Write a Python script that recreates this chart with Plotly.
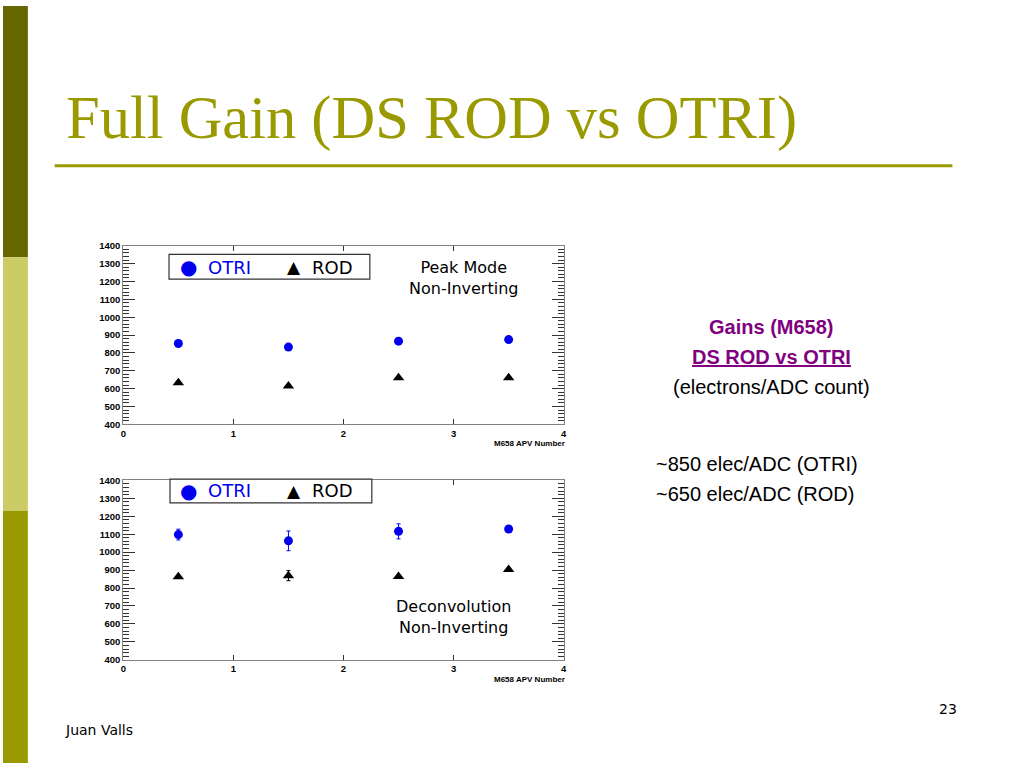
import plotly.graph_objects as go

W, H = 1024, 768

# ---------------- data ----------------
apv = [0.5, 1.5, 2.5, 3.5]
peak_otri = [853, 833, 866, 875]
peak_otri_err = [5, 5, 5, 5]
peak_rod = [633, 615, 661, 661]
peak_rod_err = [4, 4, 4, 4]
deco_otri = [1098, 1063, 1116, 1129]
deco_otri_err = [30, 55, 42, 8]
deco_rod = [863, 869, 865, 904]
deco_rod_err = [6, 28, 6, 6]
y_ticks = [400, 500, 600, 700, 800, 900, 1000, 1100, 1200, 1300, 1400]
x_ticks = [0, 1, 2, 3, 4]

BLUE = "#0000ee"
OLIVE = "#999900"
PURPLE = "#800080"


def px(x):
    return x / W


def py(y):
    return 1 - y / H


fig = go.Figure()

# plot frames in pixels: (left, right, top, bottom)
frames = [(121, 564, 243.3, 424.5), (121, 564, 481.3, 663.3)]

datasets = [
    (peak_otri, peak_otri_err, peak_rod, peak_rod_err),
    (deco_otri, deco_otri_err, deco_rod, deco_rod_err),
]

for i, (fr, ds) in enumerate(zip(frames, datasets)):
    xa = "x" if i == 0 else "x2"
    ya = "y" if i == 0 else "y2"
    otri, otri_e, rod, rod_e = ds
    fig.add_trace(go.Scatter(
        x=apv, y=otri, mode="markers", xaxis=xa, yaxis=ya, name="OTRI",
        marker=dict(symbol="circle", size=9, color=BLUE),
        error_y=dict(type="data", array=otri_e, color=BLUE, thickness=1, width=2),
        showlegend=False,
    ))
    fig.add_trace(go.Scatter(
        x=apv, y=rod, mode="markers", xaxis=xa, yaxis=ya, name="ROD",
        marker=dict(symbol="triangle-up", size=10, color="black"),
        error_y=dict(type="data", array=rod_e, color="black", thickness=1, width=2),
        showlegend=False,
    ))

axis_common = dict(
    showline=True, linecolor="#808080", linewidth=1, mirror="ticks",
    showgrid=False, zeroline=False, ticks="inside", tickcolor="#333333",
)

for i, fr in enumerate(frames):
    l, r, t, b = fr
    xkey = "xaxis" if i == 0 else "xaxis2"
    ykey = "yaxis" if i == 0 else "yaxis2"
    fig.layout[xkey] = dict(
        domain=[px(l), px(r)], range=[0, 4], anchor="y" if i == 0 else "y2",
        tickvals=x_ticks, ticktext=[str(v) for v in x_ticks], ticklen=5,
        tickfont=dict(family="Liberation Sans", size=9.5, color="black", weight="bold"),
        **axis_common,
    )
    fig.layout[ykey] = dict(
        domain=[py(b), py(t)], range=[400, 1400], anchor="x" if i == 0 else "x2",
        tickvals=y_ticks, ticktext=[str(v) for v in y_ticks], ticklen=12,
        minor=dict(dtick=20, ticklen=6, ticks="inside", tickcolor="#333333", showgrid=False),
        tickfont=dict(family="Liberation Sans", size=9.5, color="black", weight="bold"),
        **axis_common,
    )

shapes = []
# left sidebar
for (y0, y1, c) in [(0, 255, "#666600"), (255, 512, "#cccc66"), (512, 768, "#999900")]:
    shapes.append(dict(type="rect", xref="paper", yref="paper",
                       x0=0, x1=px(25), y0=py(y1), y1=py(y0),
                       fillcolor=c, line=dict(width=0), layer="below"))
# title underline
shapes.append(dict(type="line", xref="paper", yref="paper",
                   x0=px(52), x1=px(955), y0=py(162), y1=py(162),
                   line=dict(color=OLIVE, width=3)))
# legend boxes
for (x0, y0, x1, y1) in [(167, 252, 369, 277), (168, 480, 371, 504)]:
    shapes.append(dict(type="rect", xref="paper", yref="paper",
                       x0=px(x0), x1=px(x1), y0=py(y1), y1=py(y0),
                       line=dict(color="#333333", width=1.2), fillcolor="white"))

annotations = []


def ann(text, x, y, size, color="black", family="DejaVu Sans", xanchor="center",
        yanchor="middle", weight="normal", align="center"):
    annotations.append(dict(
        text=text, x=px(x), y=py(y), xref="paper", yref="paper",
        xanchor=xanchor, yanchor=yanchor, showarrow=False, align=align,
        font=dict(family=family, size=size, color=color, weight=weight),
    ))


# title
ann("Full Gain (DS ROD vs OTRI)", 61, 114, 60.5, color=OLIVE, family="Liberation Serif",
    xanchor="left")

# legends inside plots
for yc in [265, 492]:
    ann("●", 187, yc, 20, color=BLUE)
    ann("OTRI", 204, yc, 18, color=BLUE, xanchor="left")
    ann("▲", 293, yc, 17, color="black")
    ann("ROD", 309, yc, 18, color="black", xanchor="left")

ann("Peak Mode<br>Non-Inverting", 463, 275.5, 16)
ann("Deconvolution<br>Non-Inverting", 453, 620, 16)

# axis titles
for yc in [444, 683]:
    ann("M658 APV Number", 567, yc, 8, family="Liberation Sans", xanchor="right", weight="bold")

# right text block
ann("<b>Gains (M658)</b>", 773, 326, 20, color=PURPLE, family="Liberation Sans")
ann("<b><u>DS ROD vs OTRI</u></b>", 773, 356, 20, color=PURPLE, family="Liberation Sans")
ann("(electrons/ADC count)", 773, 387, 20, family="Liberation Sans")
ann("~850 elec/ADC (OTRI)", 655, 465, 20, family="Liberation Sans", xanchor="left")
ann("~650 elec/ADC (ROD)", 655, 495, 20, family="Liberation Sans", xanchor="left")

# footer
ann("Juan Valls", 60, 735, 14, xanchor="left")
ann("23", 951, 713, 14)

fig.update_layout(
    width=W, height=H, margin=dict(l=0, r=0, t=0, b=0),
    paper_bgcolor="white", plot_bgcolor="white",
    shapes=shapes, annotations=annotations, showlegend=False,
)

fig.write_html(
    "out.html",
    config={"displayModeBar": False},
    post_script=(
        "document.documentElement.style.margin='0px';"
        "document.documentElement.style.overflow='hidden';"
        "document.body.style.margin='0px';document.body.style.padding='0px';"
        "document.body.style.overflow='hidden';"
        "var d=document.getElementById('{plot_id}');"
        "d.style.position='absolute';d.style.left='0px';d.style.top='0px';"
    ),
)
